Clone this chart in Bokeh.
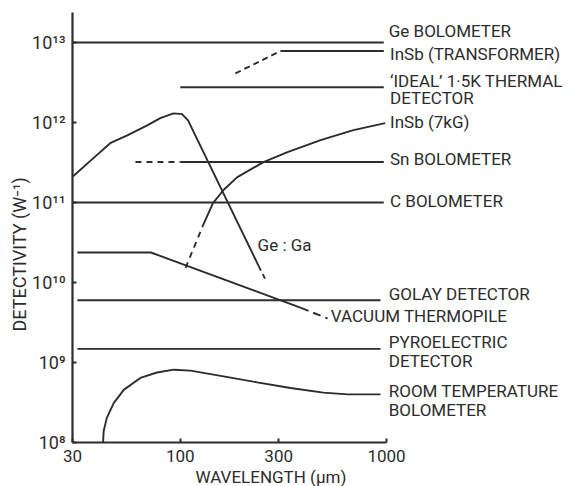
from bokeh.plotting import figure
from bokeh.models import ColumnDataSource, FixedTicker, CustomJSTickFormatter, Range1d, Title
from bokeh.embed import file_html
from bokeh.resources import INLINE
from bokeh.core.properties import value

# ---------------- data (wavelength in um, detectivity in W^-1) ----------------
ge_bolo_x = [30, 970]
ge_bolo_y = [1.0e13, 1.0e13]

insb_tr_dash_x = [185, 306]
insb_tr_dash_y = [4.1e12, 7.8e12]
insb_tr_x = [306, 970]
insb_tr_y = [7.8e12, 7.8e12]

ideal_x = [100, 970]
ideal_y = [2.75e12, 2.75e12]

gega_x = [30.2, 37.9, 45.7, 55.3, 69.1, 80.0, 92.6, 102, 109, 240]
gega_y = [2.13e11, 3.58e11, 5.5e11, 6.9e11, 9.2e11, 1.13e12, 1.30e12, 1.27e12, 1.06e12, 1.6e10]
gega_dash_x = [240, 260]
gega_dash_y = [1.6e10, 1.06e10]

insb7_dash_x = [106, 129]
insb7_dash_y = [1.52e10, 5.2e10]
insb7_x = [129, 144, 162, 189, 253, 331, 479, 691, 985]
insb7_y = [5.2e10, 9.8e10, 1.43e11, 2.07e11, 3.19e11, 4.25e11, 6.0e11, 8.0e11, 9.8e11]

sn_dash_x = [60.6, 100]
sn_dash_y = [3.2e11, 3.2e11]
sn_x = [100, 970]
sn_y = [3.2e11, 3.2e11]

c_bolo_x = [30, 970]
c_bolo_y = [1.0e11, 1.0e11]

golay_x = [31.7, 935]
golay_y = [6.0e9, 6.0e9]

thermo_x = [31.7, 72, 385]
thermo_y = [2.37e10, 2.37e10, 4.8e9]
thermo_dash_x = [385, 518]
thermo_dash_y = [4.8e9, 3.55e9]

pyro_x = [31.7, 935]
pyro_y = [1.48e9, 1.48e9]

room_x = [42.2, 42.5, 44.0, 47.6, 53.3, 64.0, 77.0, 93.0, 112, 162, 236, 342, 494, 648, 935]
room_y = [1.0e8, 1.39e8, 2.03e8, 3.13e8, 4.58e8, 6.41e8, 7.5e8, 8.13e8, 7.9e8, 6.7e8, 5.65e8, 4.8e8, 4.2e8, 4.0e8, 4.0e8]

label_text = ["Ge BOLOMETER", "InSb (TRANSFORMER)", "\u2018IDEAL\u2019 1\u00b75K THERMAL", "DETECTOR",
              "InSb (7kG)", "Sn BOLOMETER", "C BOLOMETER", "Ge : Ga", "GOLAY DETECTOR",
              "VACUUM THERMOPILE", "PYROELECTRIC", "DETECTOR", "ROOM TEMPERATURE", "BOLOMETER"]
label_x = [1025, 1040, 1040, 1040, 1040, 1040, 1040, 237, 1025, 537, 1025, 1025, 1025, 1025]
label_y = [10**13.137, 10**12.85, 10**12.52, 10**12.308, 10**12.0, 10**11.54, 10**11.02,
           10**10.47, 10**9.85, 10**9.58, 10**9.253, 10**9.022, 10**8.648, 10**8.411]

x_ticks = [30, 100, 300, 1000]
y_ticks = [1e8, 1e9, 1e10, 1e11, 1e12, 1e13]

x_title = "WAVELENGTH  (\u00b5m)"
y_title = "DETECTIVITY  (W\u207b\u00b9)"

# ---------------- figure ----------------
W, H = 578, 486
left, bottom, top = 72, 43, 12
px_per_dec_x = 206.2
x_end = 30 * 10 ** ((W - left) / px_per_dec_x)

p = figure(width=W, height=H, x_axis_type="log", y_axis_type="log",
           x_range=Range1d(30, x_end), y_range=Range1d(1e8, 10 ** 13.374),
           output_backend="svg", toolbar_location=None,
           min_border_left=left, min_border_right=0, min_border_top=top,
           min_border_bottom=bottom)
p.outline_line_color = None
p.xgrid.visible = False
p.ygrid.visible = False
p.background_fill_color = "white"
p.border_fill_color = "white"

ink = "#2c2c2c"
lw = 1.9

def line(x, y, dash="solid"):
    p.line(x, y, line_color=ink, line_width=lw, line_dash=dash)

line(ge_bolo_x, ge_bolo_y)
line(insb_tr_dash_x, insb_tr_dash_y, "6 4")
line(insb_tr_x, insb_tr_y)
line(ideal_x, ideal_y)
line(gega_x, gega_y)
line(gega_dash_x, gega_dash_y, "5 4")
line(insb7_dash_x, insb7_dash_y, "6 5")
line(insb7_x, insb7_y)
line(sn_dash_x, sn_dash_y, "6 5")
line(sn_x, sn_y)
line(c_bolo_x, c_bolo_y)
line(golay_x, golay_y)
line(thermo_x, thermo_y)
line(thermo_dash_x, thermo_dash_y, "8 5")
line(pyro_x, pyro_y)
line(room_x, room_y)

src = ColumnDataSource(dict(x=label_x, y=label_y, text=label_text))
p.text(x="x", y="y", text="text", source=src, text_font=value("Roboto"),
       text_font_size="17px", text_color=ink, text_align="left", text_baseline="middle")

# axes
p.xaxis.bounds = (30, 1000)
p.xaxis.ticker = FixedTicker(ticks=x_ticks)
p.xaxis.formatter = CustomJSTickFormatter(code="return String(Math.round(tick));")
p.yaxis.ticker = FixedTicker(ticks=y_ticks)
p.yaxis.formatter = CustomJSTickFormatter(code="""
const sup = {'0':'\u2070','1':'\u00b9','2':'\u00b2','3':'\u00b3','4':'\u2074','5':'\u2075','6':'\u2076','7':'\u2077','8':'\u2078','9':'\u2079','-':'\u207b'};
const e = Math.round(Math.log10(tick));
return '10' + String(e).split('').map(c => sup[c]).join('');
""")
for ax in (p.xaxis, p.yaxis):
    ax.axis_line_color = ink
    ax.axis_line_width = 2.2
    ax.major_tick_line_color = ink
    ax.major_tick_line_width = 2
    ax.major_tick_in = 4
    ax.major_tick_out = 0
    ax.minor_tick_line_color = None
    ax.major_label_text_font = "Roboto"
    ax.major_label_text_color = ink
p.xaxis.major_label_text_font_size = "17px"
p.yaxis.major_label_text_font_size = "18px"
p.xaxis.major_label_standoff = 7
p.yaxis.major_label_standoff = 7

p.add_layout(Title(text=x_title, align="left", offset=123, standoff=0,
                   text_font="Roboto", text_font_size="17px", text_font_style="normal",
                   text_color=ink), "below")
p.add_layout(Title(text=y_title, align="left", offset=111, standoff=0,
                   text_font="Roboto", text_font_size="18px", text_font_style="normal",
                   text_color=ink), "left")

open("out.html", "w").write(file_html(p, INLINE))
